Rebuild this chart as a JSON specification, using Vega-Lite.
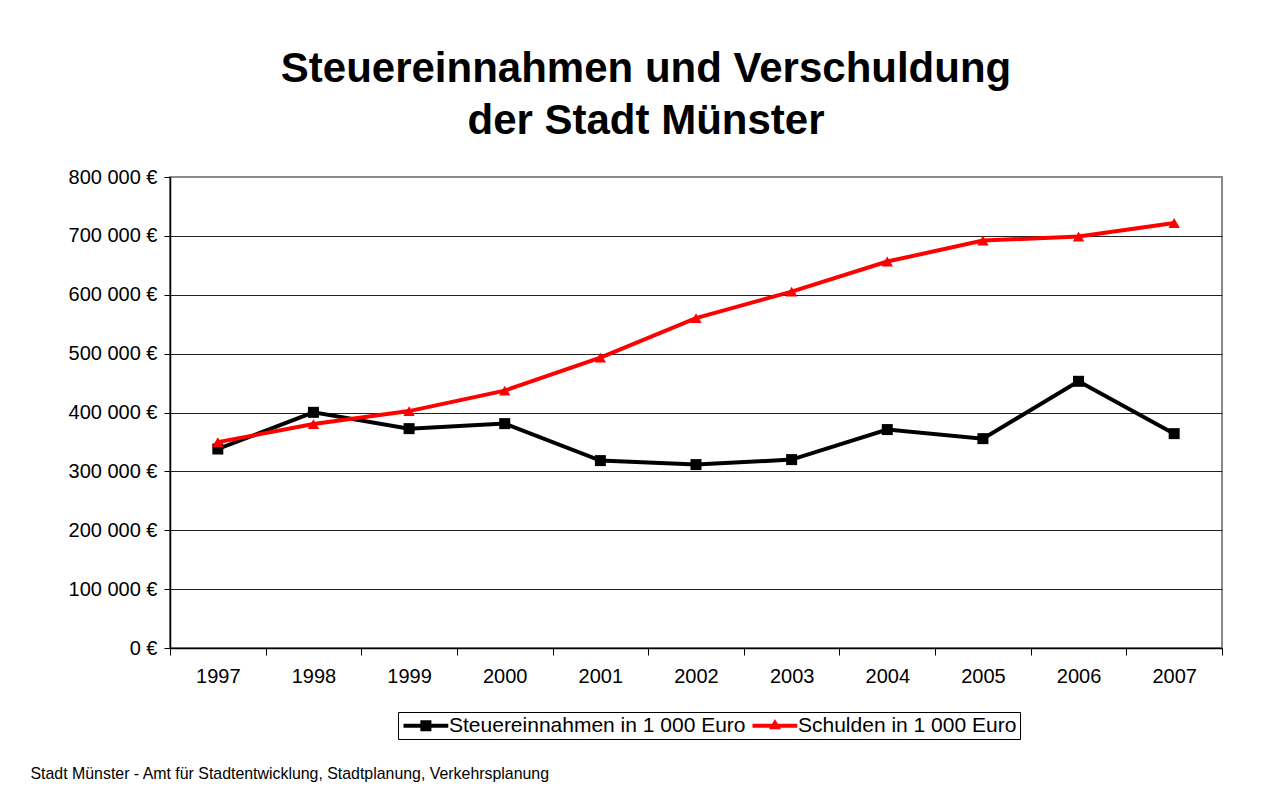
{
  "$schema": "https://vega.github.io/schema/vega-lite/v6.json",
  "autosize": {"type": "none"},
  "padding": {"left": 170, "top": 177, "right": 60, "bottom": 150},
  "width": 1052,
  "height": 471,
  "background": "white",
  "title": {
    "text": ["Steuereinnahmen und Verschuldung", "der Stadt Münster"],
    "font": "Liberation Sans, Arial",
    "fontSize": 42,
    "fontWeight": "bold",
    "color": "black",
    "lineHeight": 52,
    "anchor": "middle",
    "dx": -50,
    "offset": 24
  },
  "data": {
    "values": [
      {"Jahr": "1997", "Reihe": "Steuereinnahmen in 1 000 Euro", "Wert": 338000},
      {"Jahr": "1998", "Reihe": "Steuereinnahmen in 1 000 Euro", "Wert": 400300},
      {"Jahr": "1999", "Reihe": "Steuereinnahmen in 1 000 Euro", "Wert": 372600},
      {"Jahr": "2000", "Reihe": "Steuereinnahmen in 1 000 Euro", "Wert": 381100},
      {"Jahr": "2001", "Reihe": "Steuereinnahmen in 1 000 Euro", "Wert": 318300},
      {"Jahr": "2002", "Reihe": "Steuereinnahmen in 1 000 Euro", "Wert": 311500},
      {"Jahr": "2003", "Reihe": "Steuereinnahmen in 1 000 Euro", "Wert": 320000},
      {"Jahr": "2004", "Reihe": "Steuereinnahmen in 1 000 Euro", "Wert": 371000},
      {"Jahr": "2005", "Reihe": "Steuereinnahmen in 1 000 Euro", "Wert": 355600},
      {"Jahr": "2006", "Reihe": "Steuereinnahmen in 1 000 Euro", "Wert": 453000},
      {"Jahr": "2007", "Reihe": "Steuereinnahmen in 1 000 Euro", "Wert": 364100},
      {"Jahr": "1997", "Reihe": "Schulden in 1 000 Euro", "Wert": 349700},
      {"Jahr": "1998", "Reihe": "Schulden in 1 000 Euro", "Wert": 380300},
      {"Jahr": "1999", "Reihe": "Schulden in 1 000 Euro", "Wert": 402400},
      {"Jahr": "2000", "Reihe": "Schulden in 1 000 Euro", "Wert": 437200},
      {"Jahr": "2001", "Reihe": "Schulden in 1 000 Euro", "Wert": 493300},
      {"Jahr": "2002", "Reihe": "Schulden in 1 000 Euro", "Wert": 560400},
      {"Jahr": "2003", "Reihe": "Schulden in 1 000 Euro", "Wert": 605400},
      {"Jahr": "2004", "Reihe": "Schulden in 1 000 Euro", "Wert": 656400},
      {"Jahr": "2005", "Reihe": "Schulden in 1 000 Euro", "Wert": 692100},
      {"Jahr": "2006", "Reihe": "Schulden in 1 000 Euro", "Wert": 698900},
      {"Jahr": "2007", "Reihe": "Schulden in 1 000 Euro", "Wert": 721800}
    ]
  },
  "encoding": {
    "x": {
      "field": "Jahr",
      "type": "ordinal",
      "bandPosition": 0.5,
      "scale": {"type": "band", "paddingInner": 0, "paddingOuter": 0},
      "axis": {
        "title": "Stadt Münster - Amt für Stadtentwicklung, Stadtplanung, Verkehrsplanung",
        "titleFont": "Liberation Sans, Arial",
        "titleFontSize": 15.9,
        "titleFontWeight": "normal",
        "titleColor": "black",
        "titleAlign": "left",
        "titleBaseline": "middle",
        "titleAnchor": "start",
        "titleX": -140,
        "titleY": 125,
        "labelAngle": 0,
        "labelFont": "Liberation Sans, Arial",
        "labelFontSize": 20,
        "labelColor": "black",
        "labelPadding": 11,
        "tickBand": "extent",
        "tickSize": 7,
        "tickColor": "black",
        "domainColor": "black",
        "domainWidth": 1.5,
        "grid": false
      }
    },
    "y": {
      "field": "Wert",
      "type": "quantitative",
      "scale": {"domain": [0, 800000], "nice": false, "zero": true},
      "axis": {
        "title": null,
        "values": [0, 100000, 200000, 300000, 400000, 500000, 600000, 700000, 800000],
        "labelExpr": "replace(format(datum.value, ','), regexp(',', 'g'), ' ') + ' €'",
        "labelFont": "Liberation Sans, Arial",
        "labelFontSize": 20,
        "labelColor": "black",
        "labelPadding": 7,
        "tickSize": 6,
        "tickColor": "black",
        "domainColor": "black",
        "domainWidth": 1.5,
        "grid": true,
        "gridColor": {"condition": {"test": "datum.value === 800000", "value": "#8a8a8a"}, "value": "#222222"},
        "gridWidth": 1
      }
    },
    "color": {
      "field": "Reihe",
      "type": "nominal",
      "sort": ["Steuereinnahmen in 1 000 Euro", "Schulden in 1 000 Euro"],
      "scale": {"domain": ["Steuereinnahmen in 1 000 Euro", "Schulden in 1 000 Euro"], "range": ["#000000", "#ff0000"]},
      "legend": {
        "title": null,
        "orient": "none",
        "legendX": 228,
        "legendY": 535,
        "direction": "horizontal",
        "columns": 2,
        "strokeColor": "black",
        "fillColor": "white",
        "padding": 3,
        "columnPadding": 4,
        "labelFont": "Liberation Sans, Arial",
        "labelFontSize": 21,
        "labelColor": "black",
        "labelOffset": 27,
        "labelLimit": 500,
        "symbolSize": 256,
        "symbolStrokeWidth": 0,
        "encode": {
          "symbols": {
            "enter": {
              "shape": {"signal": "datum.value === 'Steuereinnahmen in 1 000 Euro' ? 'M-1,-0.25H4.6V0.25H-1Z M1.11,-0.69H2.49V0.69H1.11Z' : 'M-1,-0.25H4.6V0.25H-1Z M1.8,-0.85L2.55,0.45H1.05Z'"},
              "fill": {"signal": "datum.value === 'Steuereinnahmen in 1 000 Euro' ? '#000000' : '#ff0000'"},
              "strokeWidth": {"value": 0}
            },
            "update": {
              "shape": {"signal": "datum.value === 'Steuereinnahmen in 1 000 Euro' ? 'M-1,-0.25H4.6V0.25H-1Z M1.11,-0.69H2.49V0.69H1.11Z' : 'M-1,-0.25H4.6V0.25H-1Z M1.8,-0.85L2.55,0.45H1.05Z'"},
              "fill": {"signal": "datum.value === 'Steuereinnahmen in 1 000 Euro' ? '#000000' : '#ff0000'"},
              "strokeWidth": {"value": 0}
            }
          }
        }
      }
    }
  },
  "layer": [
    {
      "mark": {"type": "line", "strokeWidth": 4, "strokeJoin": "miter"}
    },
    {
      "transform": [{"filter": "datum.Reihe === 'Steuereinnahmen in 1 000 Euro'"}],
      "mark": {"type": "point", "filled": true, "opacity": 1, "size": 121, "shape": "square"}
    },
    {
      "transform": [{"filter": "datum.Reihe === 'Schulden in 1 000 Euro'"}],
      "mark": {"type": "point", "filled": true, "opacity": 1, "size": 130, "shape": "triangle-up"}
    }
  ],
  "config": {
    "view": {"stroke": "#8a8a8a", "strokeWidth": 2},
    "font": "Liberation Sans, Arial",
    "legend": {"strokeWidth": 1}
  }
}
